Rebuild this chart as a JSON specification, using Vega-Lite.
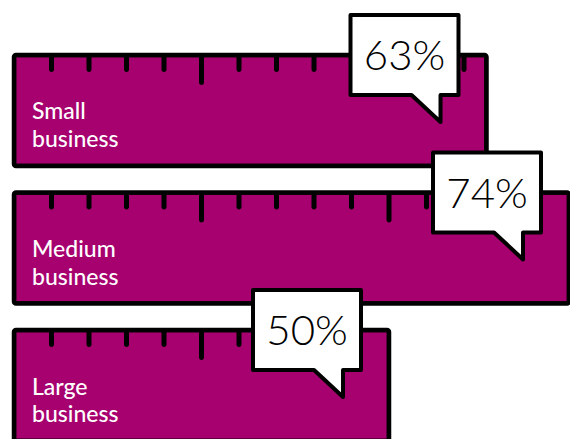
{
  "$schema": "https://vega.github.io/schema/vega-lite/v6.json",
  "width": 570,
  "height": 439,
  "autosize": "none",
  "padding": 0,
  "background": "white",
  "config": {"view": {"stroke": null}},
  "datasets": {
    "bars": [
      {"size": "Small business", "share": 0.63},
      {"size": "Medium business", "share": 0.74},
      {"size": "Large business", "share": 0.50}
    ],
    "ticks": [
      {"size": "Small business", "pos": 0.05, "kind": "minor"},
      {"size": "Small business", "pos": 0.10, "kind": "minor"},
      {"size": "Small business", "pos": 0.15, "kind": "minor"},
      {"size": "Small business", "pos": 0.20, "kind": "minor"},
      {"size": "Small business", "pos": 0.25, "kind": "major"},
      {"size": "Small business", "pos": 0.30, "kind": "minor"},
      {"size": "Small business", "pos": 0.35, "kind": "minor"},
      {"size": "Small business", "pos": 0.40, "kind": "minor"},
      {"size": "Small business", "pos": 0.45, "kind": "minor"},
      {"size": "Small business", "pos": 0.50, "kind": "major"},
      {"size": "Small business", "pos": 0.55, "kind": "minor"},
      {"size": "Small business", "pos": 0.60, "kind": "minor"},
      {"size": "Medium business", "pos": 0.05, "kind": "minor"},
      {"size": "Medium business", "pos": 0.10, "kind": "minor"},
      {"size": "Medium business", "pos": 0.15, "kind": "minor"},
      {"size": "Medium business", "pos": 0.20, "kind": "minor"},
      {"size": "Medium business", "pos": 0.25, "kind": "major"},
      {"size": "Medium business", "pos": 0.30, "kind": "minor"},
      {"size": "Medium business", "pos": 0.35, "kind": "minor"},
      {"size": "Medium business", "pos": 0.40, "kind": "minor"},
      {"size": "Medium business", "pos": 0.45, "kind": "minor"},
      {"size": "Medium business", "pos": 0.50, "kind": "major"},
      {"size": "Medium business", "pos": 0.55, "kind": "minor"},
      {"size": "Medium business", "pos": 0.60, "kind": "minor"},
      {"size": "Medium business", "pos": 0.65, "kind": "minor"},
      {"size": "Medium business", "pos": 0.70, "kind": "minor"},
      {"size": "Large business", "pos": 0.05, "kind": "minor"},
      {"size": "Large business", "pos": 0.10, "kind": "minor"},
      {"size": "Large business", "pos": 0.15, "kind": "minor"},
      {"size": "Large business", "pos": 0.20, "kind": "minor"},
      {"size": "Large business", "pos": 0.25, "kind": "major"},
      {"size": "Large business", "pos": 0.30, "kind": "minor"},
      {"size": "Large business", "pos": 0.35, "kind": "minor"},
      {"size": "Large business", "pos": 0.40, "kind": "minor"},
      {"size": "Large business", "pos": 0.45, "kind": "minor"}
    ]
  },
  "layer": [
    {
      "data": {"name": "bars"},
      "mark": {"type": "bar", "fill": "#A7006F", "stroke": "black", "strokeWidth": 4.5, "cornerRadius": 2},
      "encoding": {
        "x": {"field": "share", "type": "quantitative", "scale": {"domain": [-0.018667, 0.741333], "range": [0, 570], "zero": false, "nice": false}, "axis": null},
        "y": {"field": "size", "type": "nominal", "scale": {"domain": ["Small business", "Medium business", "Large business"], "range": [55, 441], "paddingInner": 0.193, "paddingOuter": 0}, "axis": null}
      }
    },
    {
      "data": {"name": "ticks"},
      "transform": [{"filter": "datum.kind == 'minor'"}],
      "mark": {"type": "tick", "orient": "vertical", "color": "black", "opacity": 1, "thickness": 5, "size": 17, "yOffset": -47, "cornerRadius": 2.5},
      "encoding": {
        "x": {"field": "pos", "type": "quantitative"},
        "y": {"field": "size", "type": "nominal"}
      }
    },
    {
      "data": {"name": "ticks"},
      "transform": [{"filter": "datum.kind == 'major'"}],
      "mark": {"type": "tick", "orient": "vertical", "color": "black", "opacity": 1, "thickness": 5, "size": 30, "yOffset": -40.5, "cornerRadius": 2.5},
      "encoding": {
        "x": {"field": "pos", "type": "quantitative"},
        "y": {"field": "size", "type": "nominal"}
      }
    },
    {
      "data": {"name": "bars"},
      "mark": {"type": "text", "color": "white", "font": "Lato", "fontSize": 23, "fontWeight": 500, "align": "left", "baseline": "alphabetic", "lineBreak": " ", "lineHeight": 27.5, "xOffset": 18, "yOffset": 9},
      "encoding": {
        "x": {"datum": 0, "type": "quantitative"},
        "y": {"field": "size", "type": "nominal"},
        "text": {"field": "size"}
      }
    },
    {
      "data": {"name": "bars"},
      "mark": {"type": "point", "filled": true, "fill": "white", "stroke": "black", "strokeWidth": 4, "strokeJoin": "round", "opacity": 1, "size": 11664, "xOffset": -82, "yOffset": -55.5,
        "shape": "M-1,-0.74L1,-0.74L1,0.74L0.667,0.74L0.667,1.24L0.13,0.74L-1,0.74Z"},
      "encoding": {
        "x": {"field": "share", "type": "quantitative"},
        "y": {"field": "size", "type": "nominal"}
      }
    },
    {
      "data": {"name": "bars"},
      "mark": {"type": "text", "color": "black", "font": "Lato", "fontSize": 42, "fontWeight": 300, "align": "center", "baseline": "alphabetic", "xOffset": -82, "yOffset": -40.5},
      "encoding": {
        "x": {"field": "share", "type": "quantitative"},
        "y": {"field": "size", "type": "nominal"},
        "text": {"field": "share", "type": "quantitative", "format": ".0%"}
      }
    }
  ]
}
